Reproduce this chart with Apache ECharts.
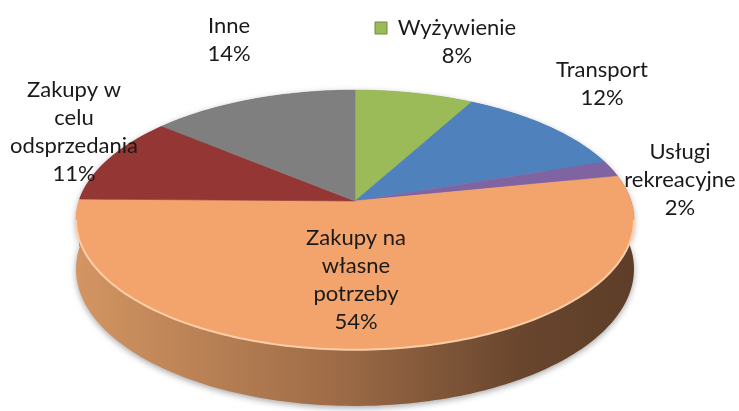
<!DOCTYPE html>
<html>
<head>
<meta charset="utf-8">
<script src="https://cdn.jsdelivr.net/npm/echarts@6/dist/echarts.min.js"></script>
<style>
  html, body { margin: 0; padding: 0; background: #fff; }
  #chart { width: 739px; height: 411px; }
</style>
</head>
<body>
<div id="chart"></div>
<script>
// dane
var categories = ['Wyżywienie', 'Transport', 'Usługi\nrekreacyjne', 'Zakupy na\nwłasne\npotrzeby', 'Zakupy w\ncelu\nodsprzedania', 'Inne'];
var values = [8, 12, 2, 54, 11, 14];
var colors = ['#9bbb59', '#4f81bd', '#8064a2', '#f3a46c', '#943634', '#7f7f7f'];
var sideColors = ['#6f8a3a', '#365f91', '#5c4776', '#9c6a45', '#652423', '#595959'];

// uklad (perspektywa 3D)
var CX = 355, CY = 201, A = 276, B = 127, K = 0.146, DEPTH = 48;
var labelPos = [[457, 42], [602, 84], [680, 180], [356, 280], [74, 132], [229, 40]];

var total = values.reduce(function (s, v) { return s + v; }, 0);
var starts = [];
var acc = 0;
for (var i = 0; i < values.length; i++) { starts.push(acc); acc += values[i]; }

function proj(theta, drop) {
    var u = Math.sin(theta), v = -Math.cos(theta);
    var w = 1 - K * v;
    return [CX + A * u / w, CY + B * v / w + (drop ? DEPTH / w : 0)];
}
function arc(a0, a1, drop) {
    var pts = [];
    var n = Math.max(2, Math.ceil((a1 - a0) / 0.02));
    for (var j = 0; j <= n; j++) pts.push(proj(a0 + (a1 - a0) * j / n, drop));
    return pts;
}
function sliceAngles(idx) {
    return [starts[idx] / total * Math.PI * 2, (starts[idx] + values[idx]) / total * Math.PI * 2];
}

var frontFrom = Math.acos(-K), frontTo = Math.PI * 2 - Math.acos(-K);

var myChart = echarts.init(document.getElementById('chart'));
myChart.setOption({
    backgroundColor: '#fff',
    animation: false,
    series: [{
        // sciany boczne
        type: 'custom',
        coordinateSystem: 'none',
        z: 1,
        data: values,
        renderItem: function (params, api) {
            var ang = sliceAngles(params.dataIndex);
            var top = arc(ang[0], ang[1], false);
            var bottom = arc(ang[0], ang[1], true).reverse();
            var fill = params.dataIndex === 3
                ? new echarts.graphic.LinearGradient(0, 0, 1, 0, [
                    { offset: 0, color: '#d39562' },
                    { offset: 0.45, color: '#a06d48' },
                    { offset: 0.8, color: '#68452d' },
                    { offset: 1, color: '#5e3e29' }])
                : sideColors[params.dataIndex];
            return {
                type: 'polygon',
                shape: { points: top.concat(bottom) },
                style: { fill: fill, shadowBlur: 6, shadowColor: 'rgba(0,0,0,0.35)', shadowOffsetY: 2 }
            };
        }
    }, {
        // powierzchnia + etykiety
        type: 'custom',
        coordinateSystem: 'none',
        z: 2,
        data: values,
        renderItem: function (params, api) {
            var idx = params.dataIndex;
            var ang = sliceAngles(idx);
            var pts = [[CX, CY]].concat(arc(ang[0], ang[1], false));
            var children = [{
                type: 'polygon',
                shape: { points: pts },
                style: { fill: colors[idx], stroke: colors[idx], lineWidth: 0.6 }
            }];
            var f0 = Math.max(ang[0], frontFrom), f1 = Math.min(ang[1], frontTo);
            if (f1 > f0) {
                children.push({
                    type: 'polyline',
                    shape: { points: arc(f0, f1, false) },
                    style: { fill: null, stroke: 'rgba(255,212,175,0.9)', lineWidth: 2 }
                });
            }
            var lp = labelPos[idx];
            children.push({
                type: 'text',
                x: lp[0], y: lp[1], z2: 100,
                style: {
                    text: categories[idx] + '\n' + api.value(0) + '%',
                    align: 'center', verticalAlign: 'middle',
                    fontFamily: 'Lato', fontSize: 22, lineHeight: 28,
                    fill: '#1a1a1a'
                }
            });
            if (idx === 0) {
                children.push({
                    type: 'rect', z2: 100,
                    shape: { x: lp[0] - 82, y: lp[1] - 20, width: 12, height: 12 },
                    style: { fill: colors[0], stroke: '#6f8a3a', lineWidth: 1 }
                });
            }
            return { type: 'group', children: children };
        }
    }]
});
</script>
</body>
</html>
